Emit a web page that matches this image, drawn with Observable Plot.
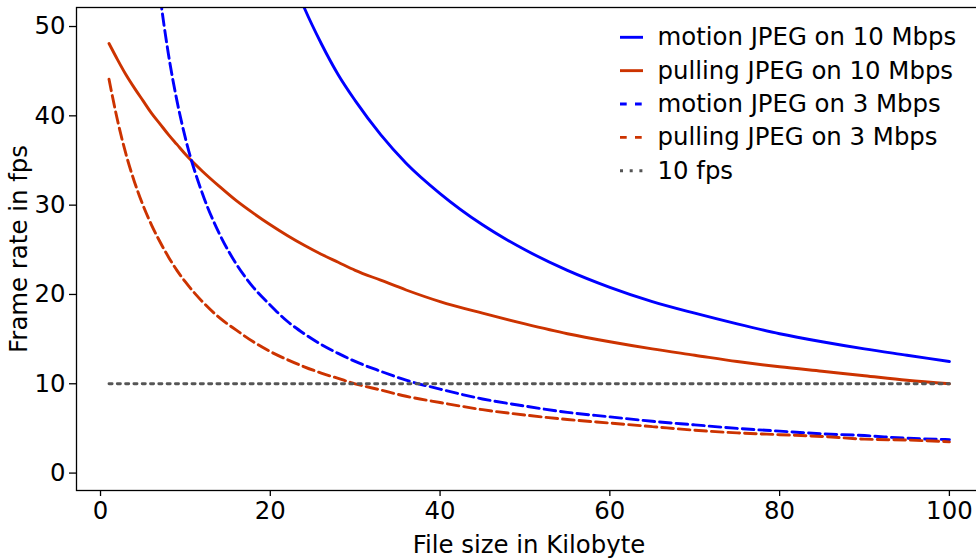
<!DOCTYPE html>
<html>
<head>
<meta charset="utf-8">
<script src="https://cdn.jsdelivr.net/npm/d3@7"></script>
<script src="https://cdn.jsdelivr.net/npm/@observablehq/plot@0.6"></script>
<style>
html, body { margin: 0; padding: 0; overflow: hidden; background: #fff; }
#chart { width: 976px; height: 558px; overflow: hidden; }
#chart svg { max-width: none !important; }
</style>
</head>
<body>
<div id="chart"></div>
<script>
// ---- data ----
const sizesAll = [1,2,3,4,5,6,7,8,9,10,12,14,16,18,20,22,24,26,28,30,33,36,40,45,50,55,60,65,70,75,80,85,90,95,100];
const pulling10 = [48.1,46.3,44.6,43.1,41.7,40.3,39.1,37.9,36.8,35.7,33.8,32.1,30.5,29.1,27.8,26.6,25.5,24.5,23.6,22.7,21.6,20.5,19.2,17.9,16.7,15.6,14.7,13.9,13.2,12.5,11.9,11.4,10.9,10.4,10.0];
const pulling3 = [44.1,39.5,35.7,32.6,30.0,27.8,25.9,24.2,22.7,21.4,19.2,17.4,16.0,14.7,13.6,12.7,11.9,11.2,10.6,10.0,9.3,8.6,7.9,7.1,6.5,6.0,5.6,5.2,4.8,4.5,4.3,4.1,3.8,3.7,3.5];
const sizesMotion10 = [20,22,24,26,28,30,33,36,40,45,50,55,60,65,70,75,80,85,90,95,100];
const motion10 = [62.5,56.8,52.1,48.1,44.6,41.7,37.9,34.7,31.3,27.8,25.0,22.7,20.8,19.2,17.9,16.7,15.6,14.7,13.9,13.2,12.5];
const sizesMotion3 = [6,7,8,9,10,12,14,16,18,20,22,24,26,28,30,33,36,40,45,50,55,60,65,70,75,80,85,90,95,100];
const motion3 = [62.5,53.6,46.9,41.7,37.5,31.3,26.8,23.4,20.8,18.8,17.0,15.6,14.4,13.4,12.5,11.4,10.4,9.4,8.3,7.5,6.8,6.3,5.8,5.4,5.0,4.7,4.4,4.2,3.9,3.75];
const targetSizes = [1, 100];
const targetFps = [10, 10];
const xTicks = [0, 20, 40, 60, 80, 100];
const yTicks = [0, 10, 20, 30, 40, 50];
const seriesNames = ["motion JPEG on 10 Mbps", "pulling JPEG on 10 Mbps", "motion JPEG on 3 Mbps", "pulling JPEG on 3 Mbps", "10 fps"];
const xLabel = "File size in Kilobyte";
const yLabel = "Frame rate in fps";

// ---- build tables ----
const pts = (xs, ys) => xs.map((x, i) => ({x, y: ys[i]}));
const blue = "#0000ff", orange = "#cc3300", grey = "#555555";
const dashed = "11.6,5", dotted = "3.1,5.2";
const series = [
  {name: seriesNames[0], data: pts(sizesMotion10, motion10), color: blue, dash: null},
  {name: seriesNames[1], data: pts(sizesAll, pulling10), color: orange, dash: null},
  {name: seriesNames[2], data: pts(sizesMotion3, motion3), color: blue, dash: dashed},
  {name: seriesNames[3], data: pts(sizesAll, pulling3), color: orange, dash: dashed},
  {name: seriesNames[4], data: pts(targetSizes, targetFps), color: grey, dash: dotted}
];
const FS = 24.4;

const plot = Plot.plot({
  width: 982,
  height: 558,
  marginLeft: 76,
  marginRight: 0,
  marginTop: 7,
  marginBottom: 68,
  style: {fontFamily: "DejaVu Sans", fontSize: FS + "px", color: "#000", background: "#fff", maxWidth: "none"},
  x: {domain: [-2.83, 103.9], ticks: xTicks},
  y: {domain: [-1.95, 52.13], ticks: yTicks},
  marks: [
    ...series.map(s => Plot.line(s.data, {
      x: "x", y: "y", stroke: s.color, strokeWidth: 2.9,
      strokeDasharray: s.dash, curve: s.dash === dotted ? "linear" : "monotone-x", clip: true
    })),
    Plot.frame({stroke: "#000", strokeWidth: 1.3}),
    Plot.axisX({ticks: xTicks, tickSize: 6, tickPadding: 5, fontSize: FS, label: null, stroke: "#000", strokeWidth: 1.3, tickFormat: d => String(d)}),
    Plot.axisY({ticks: yTicks, tickSize: 7, tickPadding: 4, fontSize: FS, label: null, stroke: "#000", strokeWidth: 1.3, tickFormat: d => String(d)})
  ]
});
plot.style.maxWidth = "none";
document.getElementById("chart").appendChild(plot);

// ---- axis labels and legend ----
const svg = d3.select(plot);
svg.append("text")
  .attr("x", 529).attr("y", 552.5)
  .attr("text-anchor", "middle")
  .attr("font-family", "DejaVu Sans").attr("font-size", FS).attr("fill", "#000")
  .text(xLabel);
svg.append("text")
  .attr("transform", "translate(26.5,249) rotate(-90)")
  .attr("text-anchor", "middle")
  .attr("font-family", "DejaVu Sans").attr("font-size", FS).attr("fill", "#000")
  .text(yLabel);

const leg = svg.append("g").attr("text-anchor", "start");
series.forEach((s, i) => {
  const yy = 37.3 + i * 33.35;
  leg.append("line")
    .attr("x1", 620).attr("x2", 643).attr("y1", yy).attr("y2", yy)
    .attr("stroke", s.color).attr("stroke-width", 2.9)
    .attr("stroke-dasharray", s.dash === dashed ? "6.7,8.3" : (s.dash === dotted ? "3,6.7" : null));
  leg.append("text")
    .attr("x", 657.5).attr("y", yy + 8)
    .attr("text-anchor", "start")
    .attr("font-family", "DejaVu Sans").attr("font-size", FS).attr("fill", "#000")
    .text(s.name);
});
</script>
</body>
</html>
